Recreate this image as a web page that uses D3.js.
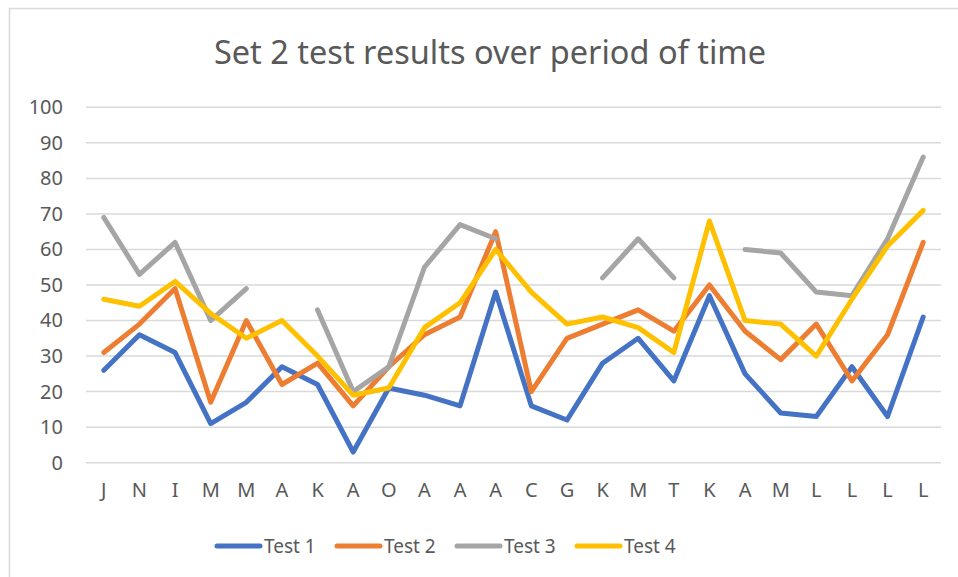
<!DOCTYPE html>
<html>
<head>
<meta charset="utf-8">
<script src="https://cdn.jsdelivr.net/npm/d3@7"></script>
<style>
  body { margin: 0; background: #fff; }
  #chart { width: 958px; height: 577px; }
  text { font-family: "Noto Sans", "Open Sans", sans-serif; fill: #595959; }
</style>
</head>
<body>
<div id="chart"></div>
<script>
const categories = ['J','N','I','M','M','A','K','A','O','A','A','A','C','G','K','M','T','K','A','M','L','L','L','L'];
const test1 = [26,36,31,11,17,27,22,3,21,19,16,48,16,12,28,35,23,47,25,14,13,27,13,41];
const test2 = [31,39,49,17,40,22,28,16,27,36,41,65,20,35,39,43,37,50,37,29,39,23,36,62];
const test3 = [69,53,62,40,49,null,43,20,27,55,67,63,null,null,52,63,52,null,60,59,48,47,63,86];
const test4 = [46,44,51,42,35,40,30,19,21,38,45,60,48,39,41,38,31,68,40,39,30,46,61,71];
const seriesNames = ['Test 1','Test 2','Test 3','Test 4'];
const yTicks = [0,10,20,30,40,50,60,70,80,90,100];
const title = 'Set 2 test results over period of time';

const colors = ['#4472C4','#ED7D31','#A5A5A5','#FFC000'];
const series = [test1, test2, test3, test4];

const width = 958, height = 577;
const margin = { left: 86, right: 17, top: 107, bottom: 115 };

const svg = d3.select('#chart').append('svg')
  .attr('width', width)
  .attr('height', height);

// chart border (right & bottom are cut off in the picture)
svg.append('rect')
  .attr('x', 9.5).attr('y', 8.5)
  .attr('width', width + 20).attr('height', height + 20)
  .attr('fill', 'none')
  .attr('stroke', '#d9d9d9')
  .attr('stroke-width', 1.5);

svg.append('text')
  .attr('x', 490)
  .attr('y', 64)
  .attr('text-anchor', 'middle')
  .attr('font-size', 32.5)
  .text(title);

const x = d3.scaleBand()
  .domain(d3.range(categories.length))
  .range([margin.left, width - margin.right]);

const y = d3.scaleLinear()
  .domain([0, 100])
  .range([height - margin.bottom + 0.7, margin.top + 0.3]);

// gridlines
svg.append('g').selectAll('line')
  .data(yTicks)
  .join('line')
  .attr('x1', margin.left)
  .attr('x2', width - margin.right)
  .attr('y1', d => y(d))
  .attr('y2', d => y(d))
  .attr('stroke', '#d9d9d9')
  .attr('stroke-width', 1.5);

// y axis
const yAxis = d3.axisLeft(y).tickValues(yTicks).tickSize(0).tickPadding(0);
svg.append('g')
  .attr('transform', `translate(63,0)`)
  .call(yAxis)
  .call(g => g.select('.domain').remove())
  .call(g => g.selectAll('text').attr('font-size', 20).attr('fill', '#595959')
    .attr('font-family', '"Noto Sans", sans-serif'));

// x axis
const xAxis = d3.axisBottom(x).tickFormat(i => categories[i]).tickSize(0).tickPadding(0);
svg.append('g')
  .attr('transform', `translate(0,${y(0) + 20})`)
  .call(xAxis)
  .call(g => g.select('.domain').remove())
  .call(g => g.selectAll('text').attr('font-size', 20).attr('fill', '#595959')
    .attr('font-family', '"Noto Sans", sans-serif'));

const line = d3.line()
  .defined(d => d != null)
  .x((d, i) => x(i) + x.bandwidth() / 2)
  .y(d => y(d));

svg.append('g').selectAll('path')
  .data(series)
  .join('path')
  .attr('d', d => line(d))
  .attr('fill', 'none')
  .attr('stroke', (d, i) => colors[i])
  .attr('stroke-width', 5)
  .attr('stroke-linejoin', 'round')
  .attr('stroke-linecap', 'round');

// legend
const legend = svg.append('g').attr('transform', 'translate(215,546)');
const item = legend.selectAll('g')
  .data(seriesNames)
  .join('g')
  .attr('transform', (d, i) => `translate(${i * 120},0)`);

item.append('line')
  .attr('x1', 2).attr('x2', 45)
  .attr('stroke', (d, i) => colors[i])
  .attr('stroke-width', 5)
  .attr('stroke-linecap', 'round');

item.append('text')
  .attr('x', 49)
  .attr('dy', '0.36em')
  .attr('font-size', 19)
  .text(d => d);
</script>
</body>
</html>
